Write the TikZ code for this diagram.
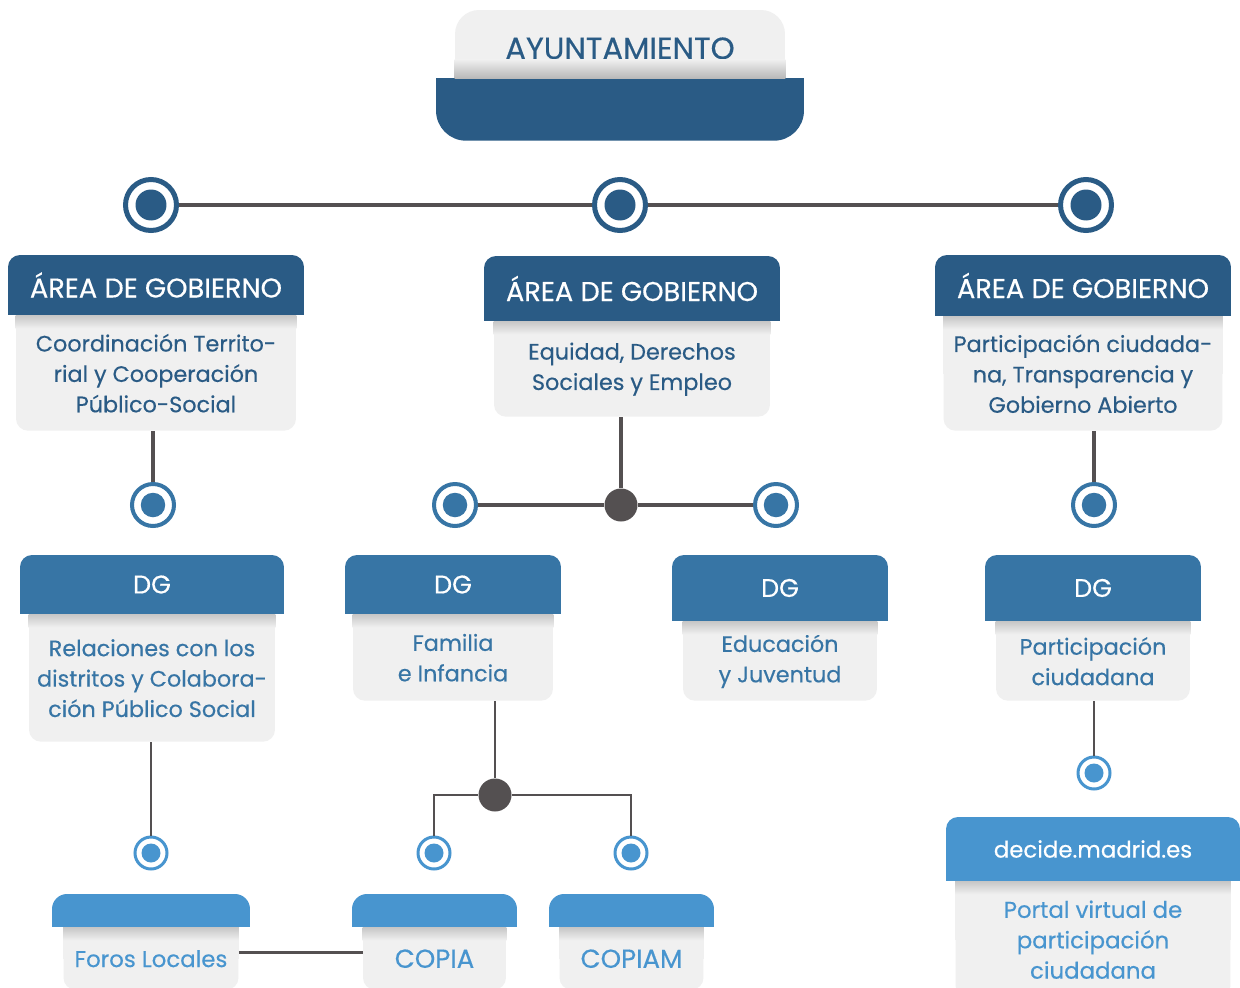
\documentclass[tikz,border=0pt]{standalone}
\usepackage{fontspec}
\setmainfont{Poppins}[FakeBold=0.4]
\usetikzlibrary{positioning,backgrounds}

\definecolor{areablue}{HTML}{2A5B85}
\definecolor{dgblue}{HTML}{3775A5}
\definecolor{lightblue}{HTML}{4895CF}
\definecolor{boxgrey}{HTML}{F0F0F0}
\definecolor{linegrey}{HTML}{545051}

\begin{document}
\begin{tikzpicture}[
    x=0.02cm, y=-0.02cm,
    header/.style={rectangle, inner sep=0pt, rounded corners=0.24cm, text=white,
        font=\fontsize{15.5}{18}\selectfont},
    body/.style={rectangle, inner sep=0pt, fill=boxgrey, rounded corners=0.24cm,
        align=center, font=\fontsize{12.7}{17.3}\selectfont},
    areahead/.style={header, fill=areablue},
    areabody/.style={body, text=areablue},
    dghead/.style={header, fill=dgblue, font=\fontsize{14.5}{17}\selectfont},
    dgbody/.style={body, text=dgblue},
    subhead/.style={header, fill=lightblue, rounded corners=0.3cm,
        font=\fontsize{13}{16}\selectfont},
    subbody/.style={body, text=lightblue, font=\fontsize{13}{17.3}\selectfont},
    ringA/.style={circle, inner sep=0pt, fill=white, draw=areablue, line width=0.1cm,
        minimum size=1.02cm,
        path picture={\fill[areablue] (path picture bounding box.center) circle (0.31cm);}},
    ringB/.style={circle, inner sep=0pt, fill=white, draw=dgblue, line width=0.08cm,
        minimum size=0.84cm,
        path picture={\fill[dgblue] (path picture bounding box.center) circle (0.245cm);}},
    ringC/.style={circle, inner sep=0pt, fill=white, draw=lightblue, line width=0.06cm,
        minimum size=0.64cm,
        path picture={\fill[lightblue] (path picture bounding box.center) circle (0.19cm);}},
    joint/.style={circle, inner sep=0pt, fill=linegrey, minimum size=0.66cm},
    link/.style={draw=linegrey, line width=0.085cm},
    thinlink/.style={draw=linegrey, line width=0.055cm},
    ]

    \useasboundingbox (0,0) rectangle (1240,987);

    % top block
    \node [rectangle, inner sep=0pt, fill=boxgrey, rounded corners=0.48cm, text=areablue,
        minimum width=6.6cm, minimum height=1.36cm, text height=0.6cm, text depth=0pt,
        font=\fontsize{17.4}{20}\selectfont] (ayto) at (620,44) {AYUNTAMIENTO};
    \node [rectangle, inner sep=0pt, fill=areablue, rounded corners=0.6cm,
        minimum width=7.36cm, minimum height=1.24cm, below=0pt of ayto] (aytobase) {};

    % areas de gobierno
    \node [areahead, minimum width=5.92cm, minimum height=1.2cm] (areaLh) at (156,285) {ÁREA DE GOBIERNO};
    \node [areabody, minimum width=5.6cm, minimum height=2.3cm, below=0pt of areaLh] (areaLb)
        {Coordinación Territo-\\rial y Cooperación\\Público-Social};
    \node [areahead, minimum width=5.92cm, minimum height=1.3cm] (areaMh) at (632,288.5) {ÁREA DE GOBIERNO};
    \node [areabody, minimum width=5.52cm, minimum height=1.9cm, below=0pt of areaMh] (areaMb)
        {Equidad, Derechos\\Sociales y Empleo};
    \node [areahead, minimum width=5.92cm, minimum height=1.22cm] (areaRh) at (1083,285.5) {ÁREA DE GOBIERNO};
    \node [areabody, minimum width=5.58cm, minimum height=2.28cm, below=0pt of areaRh] (areaRb)
        {Participación ciudada-\\na, Transparencia y\\Gobierno Abierto};

    % direcciones generales
    \node [dghead, minimum width=5.28cm, minimum height=1.18cm] (dgLh) at (152,584.5) {DG};
    \node [dgbody, minimum width=4.92cm, minimum height=2.54cm, below=0pt of dgLh] (dgLb)
        {Relaciones con los\\distritos y Colabora-\\ción Público Social};
    \node [dghead, minimum width=4.32cm, minimum height=1.18cm] (dgFh) at (453,584.5) {DG};
    \node [dgbody, minimum width=4cm, minimum height=1.72cm, below=0pt of dgFh] (dgFb)
        {Familia\\e Infancia};
    \node [dghead, minimum width=4.32cm, minimum height=1.32cm] (dgEh) at (780,588) {DG};
    \node [dgbody, minimum width=3.88cm, minimum height=1.58cm, below=0pt of dgEh] (dgEb)
        {Educación\\y Juventud};
    \node [dghead, minimum width=4.32cm, minimum height=1.32cm] (dgPh) at (1093,588) {DG};
    \node [dgbody, minimum width=3.88cm, minimum height=1.58cm, below=0pt of dgPh] (dgPb)
        {Participación\\ciudadana};

    % tercer nivel
    \node [subhead, minimum width=3.96cm, minimum height=0.66cm] (forosh) at (151,910.5) {};
    \node [subbody, minimum width=3.5cm, minimum height=1.24cm, below=0pt of forosh] (forosb) {Foros Locales};
    \node [subhead, minimum width=3.3cm, minimum height=0.66cm] (copiah) at (434.5,910.5) {};
    \node [subbody, minimum width=2.86cm, minimum height=1.24cm, below=0pt of copiah,
        font=\fontsize{14.8}{17.3}\selectfont] (copiab) {COPIA};
    \node [subhead, minimum width=3.3cm, minimum height=0.66cm] (copiamh) at (631.5,910.5) {};
    \node [subbody, minimum width=2.88cm, minimum height=1.24cm, below=0pt of copiamh,
        font=\fontsize{14.8}{17.3}\selectfont] (copiamb) {COPIAM};
    \node [subhead, rounded corners=0.24cm, minimum width=5.88cm, minimum height=1.28cm] (decideh) at (1093,849)
        {decide.madrid.es};
    \node [subbody, minimum width=5.5cm, minimum height=2.32cm, below=0pt of decideh] (decideb)
        {Portal virtual de\\participación\\ciudadana};

    % shadows under the tabs
    \shade [top color=boxgrey, bottom color=black!28] ([yshift=0.38cm]ayto.south west) rectangle (ayto.south east);
    \foreach \n in {areaLb,areaMb,areaRb,dgLb,dgFb,dgEb,dgPb,forosb,copiab,copiamb,decideb}
        \shade [top color=black!22, bottom color=boxgrey] (\n.north west) rectangle ([yshift=-0.26cm]\n.north east);

    % rings and joints
    \node [ringA] (r1L) at (151,205) {};
    \node [ringA] (r1M) at (620,205) {};
    \node [ringA] (r1R) at (1086,205) {};
    \node [ringB] (r2L) at (153,505) {};
    \node [ringB] (r2F) at (455,505) {};
    \node [ringB] (r2E) at (776,505) {};
    \node [ringB] (r2P) at (1094,505) {};
    \node [joint] (jM) at (621,505) {};
    \node [joint] (jF) at (495,795) {};
    \node [ringC] (r3L) at (151,853) {};
    \node [ringC] (r3A) at (434,853) {};
    \node [ringC] (r3B) at (631,853) {};
    \node [ringC] (r3P) at (1094,773) {};

    \draw [link] (r1L) -- (r1M) -- (r1R);
    \draw [link] (areaLb.south -| r2L) -- (r2L);
    \draw [link] (areaMb.south -| jM) -- (jM);
    \draw [link] (r2F) -- (jM) -- (r2E);
    \draw [link] (areaRb.south -| r2P) -- (r2P);
    \draw [thinlink] (dgLb.south -| r3L) -- (r3L);
    \draw [thinlink] (dgFb.south -| jF) -- (jF);
    \draw [thinlink] (jF) -| (r3A);
    \draw [thinlink] (jF) -| (r3B);
    \draw [thinlink] (dgPb.south -| r3P) -- (r3P);
    \draw [thinlink] ([yshift=0.12cm]forosb.east) -- ([yshift=0.12cm]copiab.west);

    % square off the inner corners of the tabs
    \begin{scope}[on background layer]
        \fill [white] (0,0) rectangle (1240,987);
        \fill [boxgrey] (ayto.west) rectangle (ayto.south east);
        \fill [areablue] (aytobase.north west) rectangle (aytobase.east);
        \foreach \n/\c in {areaLh/areablue,areaMh/areablue,areaRh/areablue,
                dgLh/dgblue,dgFh/dgblue,dgEh/dgblue,dgPh/dgblue,
                forosh/lightblue,copiah/lightblue,copiamh/lightblue,decideh/lightblue}
            \fill [\c] (\n.west) rectangle (\n.south east);
        \foreach \n in {areaLb,areaMb,areaRb,dgLb,dgFb,dgEb,dgPb,forosb,copiab,copiamb,decideb}
            \fill [boxgrey] (\n.north west) rectangle (\n.east);
    \end{scope}
\end{tikzpicture}
\end{document}
